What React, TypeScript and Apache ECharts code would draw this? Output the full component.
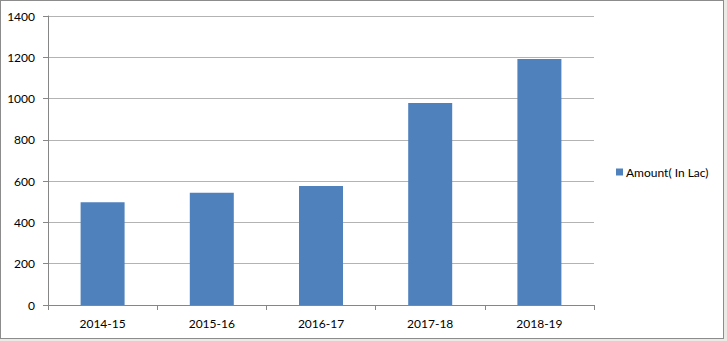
import React, { useEffect, useRef } from "react";
import * as echarts from "echarts";

const categories = ["2014-15", "2015-16", "2016-17", "2017-18", "2018-19"];
const amounts = [498, 544, 576, 978, 1192];
const seriesName = "Amount( In Lac)";

export default function App() {
  const ref = useRef<HTMLDivElement>(null);
  useEffect(() => {
    document.body.style.margin = "0";
    document.body.style.background = "#ebeae5";
    const chart = echarts.init(ref.current!, null, { renderer: "svg" });
    const font = "Lato, 'Open Sans', sans-serif";
    chart.setOption({
      animation: false,
      backgroundColor: "#ffffff",
      textStyle: { fontFamily: font },
      legend: {
        data: [seriesName],
        left: 615,
        top: 165,
        padding: 0,
        icon: "rect",
        itemWidth: 7,
        itemHeight: 7,
        textStyle: { fontSize: 12, color: "#000", fontFamily: font, padding: [0, 0, 0, -2] },
      },
      grid: { left: 47, top: 15, width: 546, height: 289, containLabel: false },
      xAxis: {
        type: "category",
        data: categories,
        axisLine: { lineStyle: { color: "#868686", width: 1 } },
        axisTick: { show: true, length: 5, alignWithLabel: false, lineStyle: { color: "#868686" } },
        axisLabel: { color: "#000", fontSize: 12, margin: 12, fontFamily: font },
        splitLine: { show: false },
      },
      yAxis: {
        type: "value",
        min: 0,
        max: 1400,
        interval: 200,
        axisLine: { show: true, lineStyle: { color: "#868686", width: 1 } },
        axisTick: { show: true, length: 5, lineStyle: { color: "#868686" } },
        axisLabel: {
          color: "#000",
          fontSize: 12,
          margin: 13,
          fontFamily: font,
          formatter: (v: number) => String(v),
        },
        splitLine: { lineStyle: { color: "#b3b3b3", width: 1 } },
      },
      series: [
        {
          name: seriesName,
          type: "bar",
          data: amounts,
          barWidth: 44,
          itemStyle: { color: "#4f81bd" },
        },
      ],
    });
    return () => chart.dispose();
  }, []);
  return (
    <div
      style={{
        position: "absolute",
        left: 0,
        top: 0,
        width: 724,
        height: 339,
        border: "1px solid #8c8c8c",
        boxSizing: "border-box",
        background: "#fff",
      }}
    >
      <div ref={ref} style={{ width: 722, height: 337 }} />
    </div>
  );
}
